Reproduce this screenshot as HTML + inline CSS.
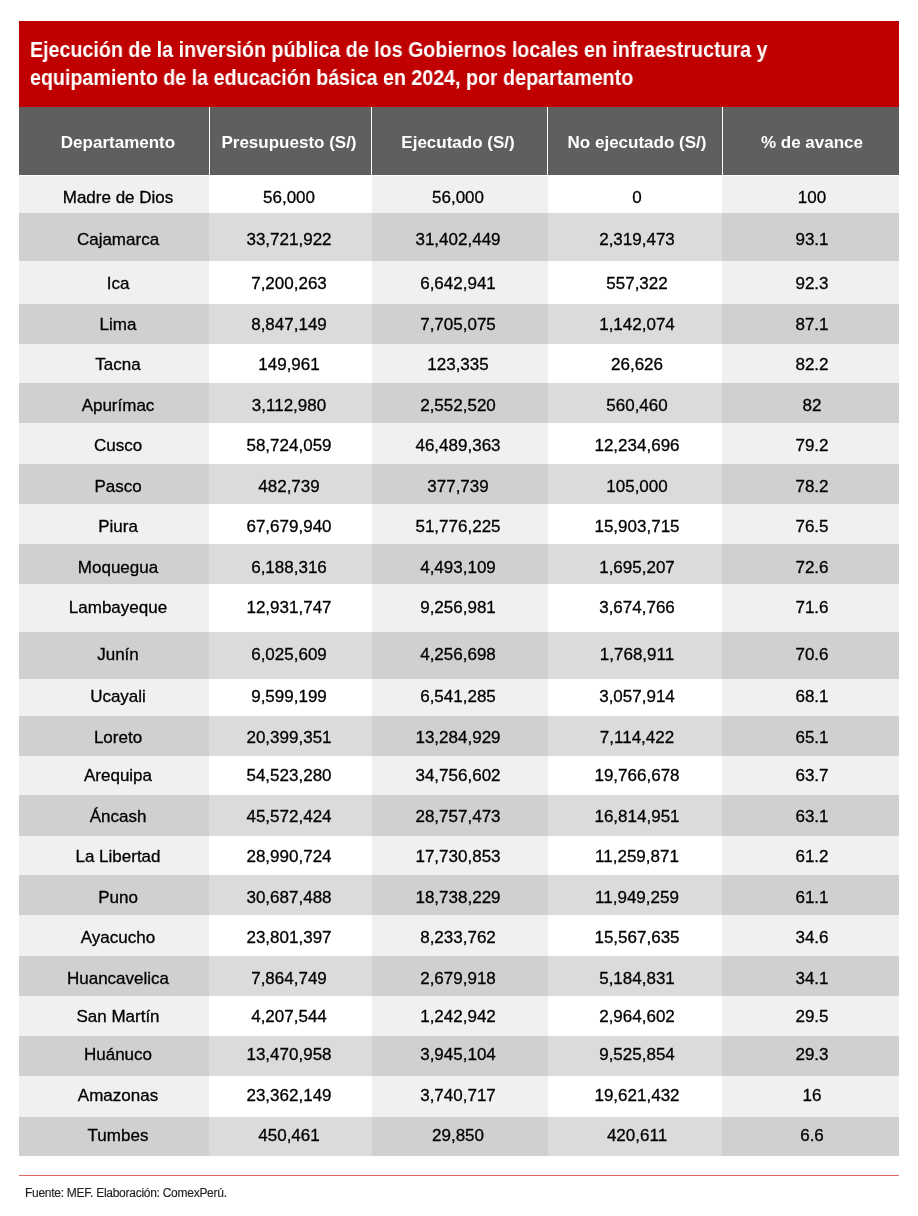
<!DOCTYPE html>
<html><head><meta charset="utf-8"><style>
html,body{margin:0;padding:0;background:#fff;}
body{width:918px;height:1216px;position:relative;overflow:hidden;font-family:"Liberation Sans",sans-serif;}
.a{position:absolute;}
.t{position:absolute;will-change:transform;white-space:nowrap;color:#fff;font-weight:bold;font-size:21.5px;line-height:28px;transform-origin:0 0;}
.c{position:absolute;}
.x{position:absolute;will-change:transform;-webkit-text-stroke:0.3px #000;white-space:nowrap;font-size:17px;line-height:20px;color:#000;transform:translateX(-50%);}
.h{position:absolute;will-change:transform;white-space:nowrap;font-size:17px;line-height:20px;color:#fff;font-weight:bold;transform:translateX(-50%);}
.f{position:absolute;will-change:transform;-webkit-text-stroke:0.15px #231f20;white-space:nowrap;font-size:12px;line-height:14px;color:#231f20;letter-spacing:-0.27px;}
</style></head><body>

<div class="a" style="left:19px;top:21px;width:880px;height:86px;background:#c00000;"></div>
<div class="t" style="left:30.2px;top:36px;transform:scaleX(0.9145);">Ejecución de la inversión pública de los Gobiernos locales en infraestructura y<br>equipamiento de la educación básica en 2024, por departamento</div>
<div class="a" style="left:19px;top:107px;width:880px;height:68px;background:#5f5f5f;"></div>
<div class="a" style="left:209px;top:107px;width:1px;height:68px;background:#fff;"></div>
<div class="a" style="left:371px;top:107px;width:1px;height:68px;background:#fff;"></div>
<div class="a" style="left:547px;top:107px;width:1px;height:68px;background:#fff;"></div>
<div class="a" style="left:722px;top:107px;width:1px;height:68px;background:#fff;"></div>
<div class="h" style="left:118px;top:133px;">Departamento</div>
<div class="h" style="left:289px;top:133px;">Presupuesto (S/)</div>
<div class="h" style="left:457.7px;top:133px;">Ejecutado (S/)</div>
<div class="h" style="left:637px;top:133px;">No ejecutado (S/)</div>
<div class="h" style="left:812.3px;top:133px;">% de avance</div>
<div class="c" style="left:19px;top:176px;width:190px;height:37px;background:#f0f0f0;"></div>
<div class="c" style="left:209px;top:176px;width:163px;height:37px;background:#ffffff;"></div>
<div class="c" style="left:372px;top:176px;width:176px;height:37px;background:#f0f0f0;"></div>
<div class="c" style="left:548px;top:176px;width:174px;height:37px;background:#ffffff;"></div>
<div class="c" style="left:722px;top:176px;width:177px;height:37px;background:#f0f0f0;"></div>
<div class="x" style="left:118px;top:188px;">Madre de Dios</div>
<div class="x" style="left:289px;top:188px;">56,000</div>
<div class="x" style="left:457.7px;top:188px;">56,000</div>
<div class="x" style="left:637px;top:188px;">0</div>
<div class="x" style="left:812.3px;top:188px;">100</div>
<div class="c" style="left:19px;top:213px;width:190px;height:48px;background:#d0d0d0;"></div>
<div class="c" style="left:209px;top:213px;width:163px;height:48px;background:#dbdbdb;"></div>
<div class="c" style="left:372px;top:213px;width:176px;height:48px;background:#d0d0d0;"></div>
<div class="c" style="left:548px;top:213px;width:174px;height:48px;background:#dbdbdb;"></div>
<div class="c" style="left:722px;top:213px;width:177px;height:48px;background:#d0d0d0;"></div>
<div class="x" style="left:118px;top:230px;">Cajamarca</div>
<div class="x" style="left:289px;top:230px;">33,721,922</div>
<div class="x" style="left:457.7px;top:230px;">31,402,449</div>
<div class="x" style="left:637px;top:230px;">2,319,473</div>
<div class="x" style="left:812.3px;top:230px;">93.1</div>
<div class="c" style="left:19px;top:261px;width:190px;height:43px;background:#f0f0f0;"></div>
<div class="c" style="left:209px;top:261px;width:163px;height:43px;background:#ffffff;"></div>
<div class="c" style="left:372px;top:261px;width:176px;height:43px;background:#f0f0f0;"></div>
<div class="c" style="left:548px;top:261px;width:174px;height:43px;background:#ffffff;"></div>
<div class="c" style="left:722px;top:261px;width:177px;height:43px;background:#f0f0f0;"></div>
<div class="x" style="left:118px;top:274px;">Ica</div>
<div class="x" style="left:289px;top:274px;">7,200,263</div>
<div class="x" style="left:457.7px;top:274px;">6,642,941</div>
<div class="x" style="left:637px;top:274px;">557,322</div>
<div class="x" style="left:812.3px;top:274px;">92.3</div>
<div class="c" style="left:19px;top:304px;width:190px;height:40px;background:#d0d0d0;"></div>
<div class="c" style="left:209px;top:304px;width:163px;height:40px;background:#dbdbdb;"></div>
<div class="c" style="left:372px;top:304px;width:176px;height:40px;background:#d0d0d0;"></div>
<div class="c" style="left:548px;top:304px;width:174px;height:40px;background:#dbdbdb;"></div>
<div class="c" style="left:722px;top:304px;width:177px;height:40px;background:#d0d0d0;"></div>
<div class="x" style="left:118px;top:315px;">Lima</div>
<div class="x" style="left:289px;top:315px;">8,847,149</div>
<div class="x" style="left:457.7px;top:315px;">7,705,075</div>
<div class="x" style="left:637px;top:315px;">1,142,074</div>
<div class="x" style="left:812.3px;top:315px;">87.1</div>
<div class="c" style="left:19px;top:344px;width:190px;height:39px;background:#f0f0f0;"></div>
<div class="c" style="left:209px;top:344px;width:163px;height:39px;background:#ffffff;"></div>
<div class="c" style="left:372px;top:344px;width:176px;height:39px;background:#f0f0f0;"></div>
<div class="c" style="left:548px;top:344px;width:174px;height:39px;background:#ffffff;"></div>
<div class="c" style="left:722px;top:344px;width:177px;height:39px;background:#f0f0f0;"></div>
<div class="x" style="left:118px;top:355px;">Tacna</div>
<div class="x" style="left:289px;top:355px;">149,961</div>
<div class="x" style="left:457.7px;top:355px;">123,335</div>
<div class="x" style="left:637px;top:355px;">26,626</div>
<div class="x" style="left:812.3px;top:355px;">82.2</div>
<div class="c" style="left:19px;top:383px;width:190px;height:40px;background:#d0d0d0;"></div>
<div class="c" style="left:209px;top:383px;width:163px;height:40px;background:#dbdbdb;"></div>
<div class="c" style="left:372px;top:383px;width:176px;height:40px;background:#d0d0d0;"></div>
<div class="c" style="left:548px;top:383px;width:174px;height:40px;background:#dbdbdb;"></div>
<div class="c" style="left:722px;top:383px;width:177px;height:40px;background:#d0d0d0;"></div>
<div class="x" style="left:118px;top:396px;">Apurímac</div>
<div class="x" style="left:289px;top:396px;">3,112,980</div>
<div class="x" style="left:457.7px;top:396px;">2,552,520</div>
<div class="x" style="left:637px;top:396px;">560,460</div>
<div class="x" style="left:812.3px;top:396px;">82</div>
<div class="c" style="left:19px;top:423px;width:190px;height:41px;background:#f0f0f0;"></div>
<div class="c" style="left:209px;top:423px;width:163px;height:41px;background:#ffffff;"></div>
<div class="c" style="left:372px;top:423px;width:176px;height:41px;background:#f0f0f0;"></div>
<div class="c" style="left:548px;top:423px;width:174px;height:41px;background:#ffffff;"></div>
<div class="c" style="left:722px;top:423px;width:177px;height:41px;background:#f0f0f0;"></div>
<div class="x" style="left:118px;top:436px;">Cusco</div>
<div class="x" style="left:289px;top:436px;">58,724,059</div>
<div class="x" style="left:457.7px;top:436px;">46,489,363</div>
<div class="x" style="left:637px;top:436px;">12,234,696</div>
<div class="x" style="left:812.3px;top:436px;">79.2</div>
<div class="c" style="left:19px;top:464px;width:190px;height:40px;background:#d0d0d0;"></div>
<div class="c" style="left:209px;top:464px;width:163px;height:40px;background:#dbdbdb;"></div>
<div class="c" style="left:372px;top:464px;width:176px;height:40px;background:#d0d0d0;"></div>
<div class="c" style="left:548px;top:464px;width:174px;height:40px;background:#dbdbdb;"></div>
<div class="c" style="left:722px;top:464px;width:177px;height:40px;background:#d0d0d0;"></div>
<div class="x" style="left:118px;top:477px;">Pasco</div>
<div class="x" style="left:289px;top:477px;">482,739</div>
<div class="x" style="left:457.7px;top:477px;">377,739</div>
<div class="x" style="left:637px;top:477px;">105,000</div>
<div class="x" style="left:812.3px;top:477px;">78.2</div>
<div class="c" style="left:19px;top:504px;width:190px;height:40px;background:#f0f0f0;"></div>
<div class="c" style="left:209px;top:504px;width:163px;height:40px;background:#ffffff;"></div>
<div class="c" style="left:372px;top:504px;width:176px;height:40px;background:#f0f0f0;"></div>
<div class="c" style="left:548px;top:504px;width:174px;height:40px;background:#ffffff;"></div>
<div class="c" style="left:722px;top:504px;width:177px;height:40px;background:#f0f0f0;"></div>
<div class="x" style="left:118px;top:517px;">Piura</div>
<div class="x" style="left:289px;top:517px;">67,679,940</div>
<div class="x" style="left:457.7px;top:517px;">51,776,225</div>
<div class="x" style="left:637px;top:517px;">15,903,715</div>
<div class="x" style="left:812.3px;top:517px;">76.5</div>
<div class="c" style="left:19px;top:544px;width:190px;height:40px;background:#d0d0d0;"></div>
<div class="c" style="left:209px;top:544px;width:163px;height:40px;background:#dbdbdb;"></div>
<div class="c" style="left:372px;top:544px;width:176px;height:40px;background:#d0d0d0;"></div>
<div class="c" style="left:548px;top:544px;width:174px;height:40px;background:#dbdbdb;"></div>
<div class="c" style="left:722px;top:544px;width:177px;height:40px;background:#d0d0d0;"></div>
<div class="x" style="left:118px;top:558px;">Moquegua</div>
<div class="x" style="left:289px;top:558px;">6,188,316</div>
<div class="x" style="left:457.7px;top:558px;">4,493,109</div>
<div class="x" style="left:637px;top:558px;">1,695,207</div>
<div class="x" style="left:812.3px;top:558px;">72.6</div>
<div class="c" style="left:19px;top:584px;width:190px;height:48px;background:#f0f0f0;"></div>
<div class="c" style="left:209px;top:584px;width:163px;height:48px;background:#ffffff;"></div>
<div class="c" style="left:372px;top:584px;width:176px;height:48px;background:#f0f0f0;"></div>
<div class="c" style="left:548px;top:584px;width:174px;height:48px;background:#ffffff;"></div>
<div class="c" style="left:722px;top:584px;width:177px;height:48px;background:#f0f0f0;"></div>
<div class="x" style="left:118px;top:598px;">Lambayeque</div>
<div class="x" style="left:289px;top:598px;">12,931,747</div>
<div class="x" style="left:457.7px;top:598px;">9,256,981</div>
<div class="x" style="left:637px;top:598px;">3,674,766</div>
<div class="x" style="left:812.3px;top:598px;">71.6</div>
<div class="c" style="left:19px;top:632px;width:190px;height:47px;background:#d0d0d0;"></div>
<div class="c" style="left:209px;top:632px;width:163px;height:47px;background:#dbdbdb;"></div>
<div class="c" style="left:372px;top:632px;width:176px;height:47px;background:#d0d0d0;"></div>
<div class="c" style="left:548px;top:632px;width:174px;height:47px;background:#dbdbdb;"></div>
<div class="c" style="left:722px;top:632px;width:177px;height:47px;background:#d0d0d0;"></div>
<div class="x" style="left:118px;top:645px;">Junín</div>
<div class="x" style="left:289px;top:645px;">6,025,609</div>
<div class="x" style="left:457.7px;top:645px;">4,256,698</div>
<div class="x" style="left:637px;top:645px;">1,768,911</div>
<div class="x" style="left:812.3px;top:645px;">70.6</div>
<div class="c" style="left:19px;top:679px;width:190px;height:37px;background:#f0f0f0;"></div>
<div class="c" style="left:209px;top:679px;width:163px;height:37px;background:#ffffff;"></div>
<div class="c" style="left:372px;top:679px;width:176px;height:37px;background:#f0f0f0;"></div>
<div class="c" style="left:548px;top:679px;width:174px;height:37px;background:#ffffff;"></div>
<div class="c" style="left:722px;top:679px;width:177px;height:37px;background:#f0f0f0;"></div>
<div class="x" style="left:118px;top:687px;">Ucayali</div>
<div class="x" style="left:289px;top:687px;">9,599,199</div>
<div class="x" style="left:457.7px;top:687px;">6,541,285</div>
<div class="x" style="left:637px;top:687px;">3,057,914</div>
<div class="x" style="left:812.3px;top:687px;">68.1</div>
<div class="c" style="left:19px;top:716px;width:190px;height:40px;background:#d0d0d0;"></div>
<div class="c" style="left:209px;top:716px;width:163px;height:40px;background:#dbdbdb;"></div>
<div class="c" style="left:372px;top:716px;width:176px;height:40px;background:#d0d0d0;"></div>
<div class="c" style="left:548px;top:716px;width:174px;height:40px;background:#dbdbdb;"></div>
<div class="c" style="left:722px;top:716px;width:177px;height:40px;background:#d0d0d0;"></div>
<div class="x" style="left:118px;top:728px;">Loreto</div>
<div class="x" style="left:289px;top:728px;">20,399,351</div>
<div class="x" style="left:457.7px;top:728px;">13,284,929</div>
<div class="x" style="left:637px;top:728px;">7,114,422</div>
<div class="x" style="left:812.3px;top:728px;">65.1</div>
<div class="c" style="left:19px;top:756px;width:190px;height:39px;background:#f0f0f0;"></div>
<div class="c" style="left:209px;top:756px;width:163px;height:39px;background:#ffffff;"></div>
<div class="c" style="left:372px;top:756px;width:176px;height:39px;background:#f0f0f0;"></div>
<div class="c" style="left:548px;top:756px;width:174px;height:39px;background:#ffffff;"></div>
<div class="c" style="left:722px;top:756px;width:177px;height:39px;background:#f0f0f0;"></div>
<div class="x" style="left:118px;top:766px;">Arequipa</div>
<div class="x" style="left:289px;top:766px;">54,523,280</div>
<div class="x" style="left:457.7px;top:766px;">34,756,602</div>
<div class="x" style="left:637px;top:766px;">19,766,678</div>
<div class="x" style="left:812.3px;top:766px;">63.7</div>
<div class="c" style="left:19px;top:795px;width:190px;height:41px;background:#d0d0d0;"></div>
<div class="c" style="left:209px;top:795px;width:163px;height:41px;background:#dbdbdb;"></div>
<div class="c" style="left:372px;top:795px;width:176px;height:41px;background:#d0d0d0;"></div>
<div class="c" style="left:548px;top:795px;width:174px;height:41px;background:#dbdbdb;"></div>
<div class="c" style="left:722px;top:795px;width:177px;height:41px;background:#d0d0d0;"></div>
<div class="x" style="left:118px;top:807px;">Áncash</div>
<div class="x" style="left:289px;top:807px;">45,572,424</div>
<div class="x" style="left:457.7px;top:807px;">28,757,473</div>
<div class="x" style="left:637px;top:807px;">16,814,951</div>
<div class="x" style="left:812.3px;top:807px;">63.1</div>
<div class="c" style="left:19px;top:836px;width:190px;height:39px;background:#f0f0f0;"></div>
<div class="c" style="left:209px;top:836px;width:163px;height:39px;background:#ffffff;"></div>
<div class="c" style="left:372px;top:836px;width:176px;height:39px;background:#f0f0f0;"></div>
<div class="c" style="left:548px;top:836px;width:174px;height:39px;background:#ffffff;"></div>
<div class="c" style="left:722px;top:836px;width:177px;height:39px;background:#f0f0f0;"></div>
<div class="x" style="left:118px;top:847px;">La Libertad</div>
<div class="x" style="left:289px;top:847px;">28,990,724</div>
<div class="x" style="left:457.7px;top:847px;">17,730,853</div>
<div class="x" style="left:637px;top:847px;">11,259,871</div>
<div class="x" style="left:812.3px;top:847px;">61.2</div>
<div class="c" style="left:19px;top:875px;width:190px;height:40px;background:#d0d0d0;"></div>
<div class="c" style="left:209px;top:875px;width:163px;height:40px;background:#dbdbdb;"></div>
<div class="c" style="left:372px;top:875px;width:176px;height:40px;background:#d0d0d0;"></div>
<div class="c" style="left:548px;top:875px;width:174px;height:40px;background:#dbdbdb;"></div>
<div class="c" style="left:722px;top:875px;width:177px;height:40px;background:#d0d0d0;"></div>
<div class="x" style="left:118px;top:888px;">Puno</div>
<div class="x" style="left:289px;top:888px;">30,687,488</div>
<div class="x" style="left:457.7px;top:888px;">18,738,229</div>
<div class="x" style="left:637px;top:888px;">11,949,259</div>
<div class="x" style="left:812.3px;top:888px;">61.1</div>
<div class="c" style="left:19px;top:915px;width:190px;height:41px;background:#f0f0f0;"></div>
<div class="c" style="left:209px;top:915px;width:163px;height:41px;background:#ffffff;"></div>
<div class="c" style="left:372px;top:915px;width:176px;height:41px;background:#f0f0f0;"></div>
<div class="c" style="left:548px;top:915px;width:174px;height:41px;background:#ffffff;"></div>
<div class="c" style="left:722px;top:915px;width:177px;height:41px;background:#f0f0f0;"></div>
<div class="x" style="left:118px;top:928px;">Ayacucho</div>
<div class="x" style="left:289px;top:928px;">23,801,397</div>
<div class="x" style="left:457.7px;top:928px;">8,233,762</div>
<div class="x" style="left:637px;top:928px;">15,567,635</div>
<div class="x" style="left:812.3px;top:928px;">34.6</div>
<div class="c" style="left:19px;top:956px;width:190px;height:40px;background:#d0d0d0;"></div>
<div class="c" style="left:209px;top:956px;width:163px;height:40px;background:#dbdbdb;"></div>
<div class="c" style="left:372px;top:956px;width:176px;height:40px;background:#d0d0d0;"></div>
<div class="c" style="left:548px;top:956px;width:174px;height:40px;background:#dbdbdb;"></div>
<div class="c" style="left:722px;top:956px;width:177px;height:40px;background:#d0d0d0;"></div>
<div class="x" style="left:118px;top:969px;">Huancavelica</div>
<div class="x" style="left:289px;top:969px;">7,864,749</div>
<div class="x" style="left:457.7px;top:969px;">2,679,918</div>
<div class="x" style="left:637px;top:969px;">5,184,831</div>
<div class="x" style="left:812.3px;top:969px;">34.1</div>
<div class="c" style="left:19px;top:996px;width:190px;height:40px;background:#f0f0f0;"></div>
<div class="c" style="left:209px;top:996px;width:163px;height:40px;background:#ffffff;"></div>
<div class="c" style="left:372px;top:996px;width:176px;height:40px;background:#f0f0f0;"></div>
<div class="c" style="left:548px;top:996px;width:174px;height:40px;background:#ffffff;"></div>
<div class="c" style="left:722px;top:996px;width:177px;height:40px;background:#f0f0f0;"></div>
<div class="x" style="left:118px;top:1007px;">San Martín</div>
<div class="x" style="left:289px;top:1007px;">4,207,544</div>
<div class="x" style="left:457.7px;top:1007px;">1,242,942</div>
<div class="x" style="left:637px;top:1007px;">2,964,602</div>
<div class="x" style="left:812.3px;top:1007px;">29.5</div>
<div class="c" style="left:19px;top:1036px;width:190px;height:40px;background:#d0d0d0;"></div>
<div class="c" style="left:209px;top:1036px;width:163px;height:40px;background:#dbdbdb;"></div>
<div class="c" style="left:372px;top:1036px;width:176px;height:40px;background:#d0d0d0;"></div>
<div class="c" style="left:548px;top:1036px;width:174px;height:40px;background:#dbdbdb;"></div>
<div class="c" style="left:722px;top:1036px;width:177px;height:40px;background:#d0d0d0;"></div>
<div class="x" style="left:118px;top:1045px;">Huánuco</div>
<div class="x" style="left:289px;top:1045px;">13,470,958</div>
<div class="x" style="left:457.7px;top:1045px;">3,945,104</div>
<div class="x" style="left:637px;top:1045px;">9,525,854</div>
<div class="x" style="left:812.3px;top:1045px;">29.3</div>
<div class="c" style="left:19px;top:1076px;width:190px;height:41px;background:#f0f0f0;"></div>
<div class="c" style="left:209px;top:1076px;width:163px;height:41px;background:#ffffff;"></div>
<div class="c" style="left:372px;top:1076px;width:176px;height:41px;background:#f0f0f0;"></div>
<div class="c" style="left:548px;top:1076px;width:174px;height:41px;background:#ffffff;"></div>
<div class="c" style="left:722px;top:1076px;width:177px;height:41px;background:#f0f0f0;"></div>
<div class="x" style="left:118px;top:1086px;">Amazonas</div>
<div class="x" style="left:289px;top:1086px;">23,362,149</div>
<div class="x" style="left:457.7px;top:1086px;">3,740,717</div>
<div class="x" style="left:637px;top:1086px;">19,621,432</div>
<div class="x" style="left:812.3px;top:1086px;">16</div>
<div class="c" style="left:19px;top:1117px;width:190px;height:39px;background:#d0d0d0;"></div>
<div class="c" style="left:209px;top:1117px;width:163px;height:39px;background:#dbdbdb;"></div>
<div class="c" style="left:372px;top:1117px;width:176px;height:39px;background:#d0d0d0;"></div>
<div class="c" style="left:548px;top:1117px;width:174px;height:39px;background:#dbdbdb;"></div>
<div class="c" style="left:722px;top:1117px;width:177px;height:39px;background:#d0d0d0;"></div>
<div class="x" style="left:118px;top:1126px;">Tumbes</div>
<div class="x" style="left:289px;top:1126px;">450,461</div>
<div class="x" style="left:457.7px;top:1126px;">29,850</div>
<div class="x" style="left:637px;top:1126px;">420,611</div>
<div class="x" style="left:812.3px;top:1126px;">6.6</div>
<div class="a" style="left:19px;top:1175px;width:880px;height:1px;background:#e06666;"></div>
<div class="f" style="left:25px;top:1186px;">Fuente: MEF. Elaboración: ComexPerú.</div>
</body></html>
